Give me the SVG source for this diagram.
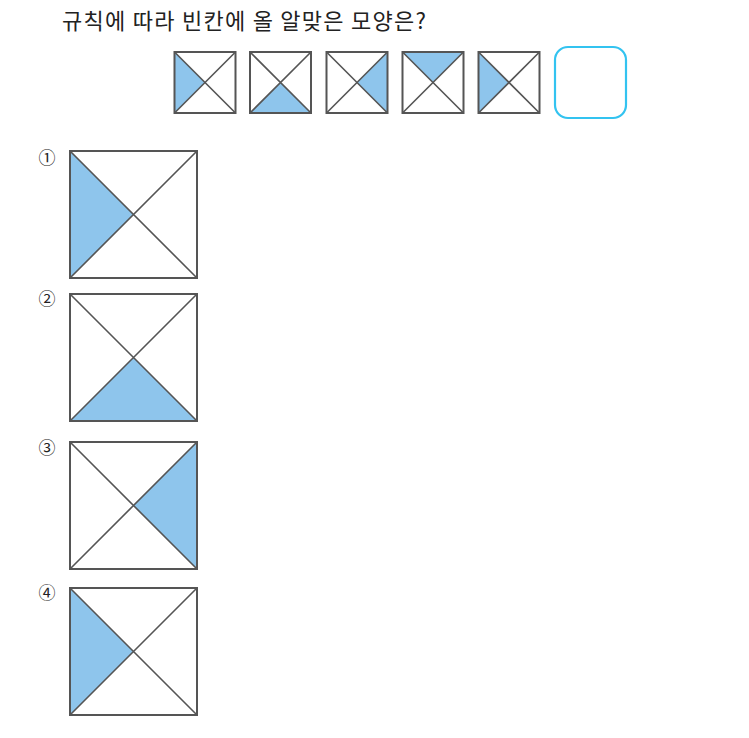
<svg xmlns="http://www.w3.org/2000/svg" xmlns:xlink="http://www.w3.org/1999/xlink" width="749" height="738" viewBox="0 0 749 738">
<style>
.title{font-family:"Noto Sans CJK KR","Noto Sans",sans-serif;font-size:22px;fill:#222}
.num{font-family:"Noto Sans CJK KR","DejaVu Sans",sans-serif;font-size:17px;fill:#222}
.sq{fill:#fff;stroke:#555;stroke-width:2}
.dg{stroke:#555;stroke-width:1.6;fill:none}
.sh{fill:#8EC5EC;stroke:none}
.blank{fill:#fff;stroke:#33C3F0;stroke-width:2.2}
</style>
<defs>
<symbol id="diag" viewBox="0 0 100 100" overflow="visible">
<path class="dg" d="M0 0L100 100M100 0L0 100" vector-effect="non-scaling-stroke"/>
<rect x="0" y="0" width="100" height="100" fill="none" stroke="#555" stroke-width="2" vector-effect="non-scaling-stroke"/>
</symbol>
<path id="tL" class="sh" d="M0 0L50 50L0 100Z"/>
<path id="tB" class="sh" d="M0 100L50 50L100 100Z"/>
<path id="tR" class="sh" d="M100 0L50 50L100 100Z"/>
<path id="tT" class="sh" d="M0 0L50 50L100 0Z"/>
</defs>
<text class="title" x="62" y="29" textLength="364" lengthAdjust="spacing">규칙에 따라 빈칸에 올 알맞은 모양은?</text>
<g id="seq1" transform="translate(174.5 52) scale(0.61)"><rect x="0" y="0" width="100" height="100" fill="#fff"/><use href="#tL"/><use href="#diag" width="100" height="100"/></g>
<g id="seq2" transform="translate(250 52) scale(0.61)"><rect x="0" y="0" width="100" height="100" fill="#fff"/><use href="#tB"/><use href="#diag" width="100" height="100"/></g>
<g id="seq3" transform="translate(326.5 52) scale(0.61)"><rect x="0" y="0" width="100" height="100" fill="#fff"/><use href="#tR"/><use href="#diag" width="100" height="100"/></g>
<g id="seq4" transform="translate(402.5 52) scale(0.61)"><rect x="0" y="0" width="100" height="100" fill="#fff"/><use href="#tT"/><use href="#diag" width="100" height="100"/></g>
<g id="seq5" transform="translate(478.5 52) scale(0.61)"><rect x="0" y="0" width="100" height="100" fill="#fff"/><use href="#tL"/><use href="#diag" width="100" height="100"/></g>
<g id="blank"><rect class="blank" x="555" y="47" width="71" height="71" rx="13" ry="13"/></g>
<g id="opt1"><text class="num" x="47" y="164" text-anchor="middle">①</text>
<g transform="translate(70 151) scale(1.27)"><rect x="0" y="0" width="100" height="100" fill="#fff"/><use href="#tL"/><use href="#diag" width="100" height="100"/></g></g>
<g id="opt2"><text class="num" x="47" y="305" text-anchor="middle">②</text>
<g transform="translate(70 294) scale(1.27)"><rect x="0" y="0" width="100" height="100" fill="#fff"/><use href="#tB"/><use href="#diag" width="100" height="100"/></g></g>
<g id="opt3"><text class="num" x="47" y="454" text-anchor="middle">③</text>
<g transform="translate(70 442) scale(1.27)"><rect x="0" y="0" width="100" height="100" fill="#fff"/><use href="#tR"/><use href="#diag" width="100" height="100"/></g></g>
<g id="opt4"><text class="num" x="47" y="599" text-anchor="middle">④</text>
<g transform="translate(70 588) scale(1.27)"><rect x="0" y="0" width="100" height="100" fill="#fff"/><use href="#tL"/><use href="#diag" width="100" height="100"/></g></g>
</svg>
